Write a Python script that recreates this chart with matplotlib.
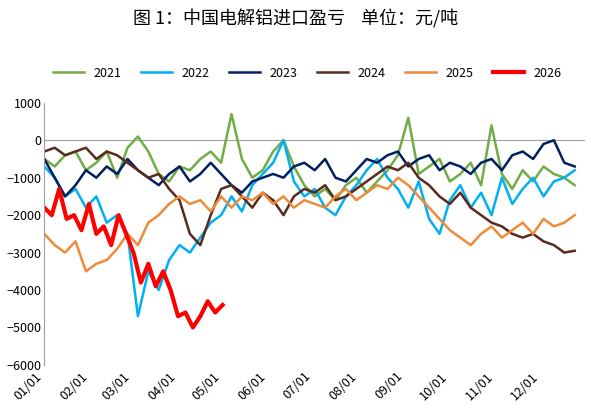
import numpy as np
import matplotlib.pyplot as plt

plt.rcParams['font.family'] = ['Noto Sans CJK SC', 'DejaVu Sans']

days = np.arange(0, 364, 7)
s2021 = [-500,-700,-400,-300,-800,-600,-300,-1000,-200,100,-300,-900,-1100,-700,-800,-500,-300,-600,700,-500,-1000,-800,-300,0,-700,-1200,-1500,-1300,-1600,-1200,-1000,-1400,-1100,-800,-400,600,-900,-700,-500,-1100,-900,-600,-1200,400,-900,-1300,-800,-1100,-700,-900,-1000,-1200]
s2022 = [-700,-1000,-1500,-1300,-1800,-1500,-2200,-2000,-2500,-4700,-3500,-4000,-3200,-2800,-3000,-2600,-2200,-2000,-1500,-1900,-1200,-900,-600,0,-1100,-1500,-1300,-1800,-2000,-1500,-1200,-800,-500,-1000,-1300,-1800,-1100,-2100,-2500,-1600,-1200,-1800,-1400,-2000,-1000,-1700,-1300,-1000,-1500,-1100,-1000,-800]
s2023 = [-500,-1000,-1500,-1200,-800,-1000,-700,-900,-500,-800,-1000,-1200,-900,-700,-1100,-900,-600,-900,-1200,-1400,-1100,-1000,-900,-1000,-700,-600,-800,-500,-1000,-1100,-800,-500,-600,-400,-300,-700,-500,-400,-800,-600,-700,-900,-600,-500,-800,-400,-300,-500,-100,0,-600,-700]
s2024 = [-300,-200,-400,-300,-200,-500,-300,-400,-600,-800,-1000,-900,-1300,-1600,-2500,-2800,-2000,-1300,-1200,-1500,-1800,-1400,-1600,-2000,-1500,-1300,-1400,-1200,-1600,-1500,-1300,-1100,-900,-700,-800,-600,-1000,-1200,-1500,-1700,-1400,-1800,-2000,-2200,-2300,-2500,-2600,-2500,-2700,-2800,-3000,-2950]
s2025 = [-2500,-2800,-3000,-2700,-3500,-3300,-3200,-2900,-2500,-2800,-2200,-2000,-1700,-1500,-1700,-1600,-1900,-1500,-1800,-1500,-1600,-1400,-1700,-1500,-1800,-1600,-1700,-1800,-1500,-1300,-1600,-1400,-1200,-1300,-1000,-1200,-1500,-1800,-2100,-2400,-2600,-2800,-2500,-2300,-2600,-2400,-2200,-2500,-2100,-2300,-2200,-2000]
days2026 = np.arange(0, 121, 5)
s2026 = [-1800,-2000,-1300,-2100,-2000,-2400,-1700,-2500,-2300,-2800,-2000,-2500,-3000,-3800,-3300,-3900,-3500,-4000,-4700,-4600,-5000,-4700,-4300,-4600,-4400]

month_days = [0, 31, 59, 90, 120, 151, 181, 212, 243, 273, 304, 334]
month_labels = [f'{m:02d}/01' for m in range(1, 13)]

fig = plt.figure(figsize=(5.91, 4.18), dpi=100)
ax = fig.add_axes([0.075, 0.127, 0.915, 0.627])

ax.plot(days, s2021, color='#70ad47', lw=1.8, label='2021')
ax.plot(days, s2022, color='#00b0f0', lw=1.8, label='2022')
ax.plot(days, s2023, color='#002060', lw=1.8, label='2023')
ax.plot(days, s2024, color='#5b2a1e', lw=1.8, label='2024')
ax.plot(days, s2025, color='#ed8b3a', lw=1.8, label='2025')
ax.plot(days2026, s2026, color='#ff0000', lw=3, label='2026')

ax.axhline(0, color='#a0a0a0', lw=0.8, zorder=0)
ax.set_ylim(-6000, 1000)
ax.set_yticks(range(-6000, 1001, 1000))
ax.set_xlim(0, 364)
ax.set_xticks(month_days)
ax.set_xticklabels(month_labels, rotation=45, ha='right', fontsize=9)
ax.tick_params(axis='y', labelsize=9, length=0, pad=2)
ax.tick_params(axis='x', length=0)
for sp in ['top', 'right', 'bottom']:
    ax.spines[sp].set_visible(False)
ax.spines['left'].set_color('#a0a0a0')

fig.legend(loc='center', bbox_to_anchor=(0.52, 0.825), ncol=6, frameon=False,
           fontsize=9, handlelength=2.5, columnspacing=1.5)
fig.text(0.5, 0.955, '图 1：中国电解铝进口盈亏    单位：元/吨', ha='center', va='center', fontsize=13)

fig.savefig('out.png', dpi=100)
